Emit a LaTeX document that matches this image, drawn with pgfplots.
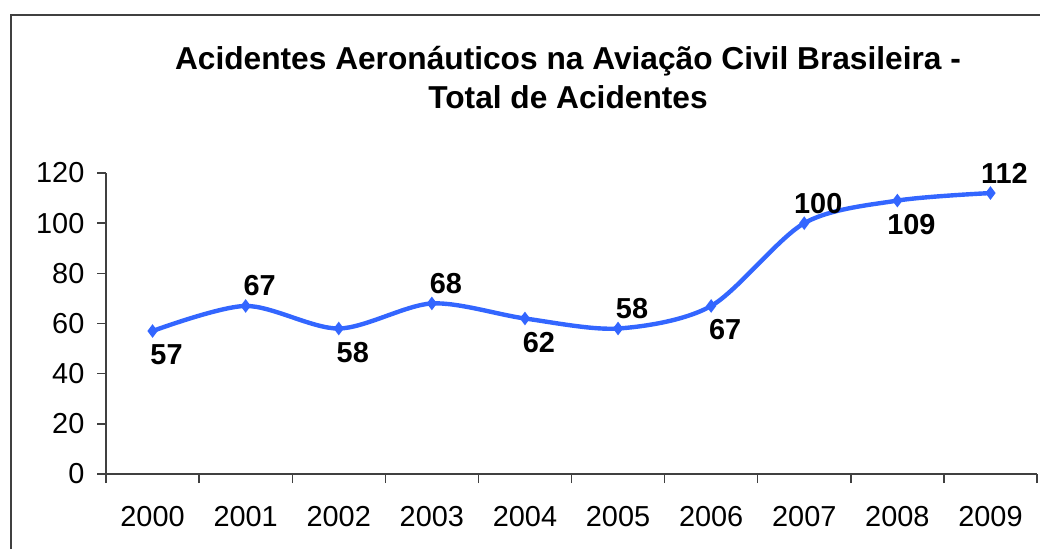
\documentclass[border=0pt]{standalone}
\usepackage{pgfplots}
\pgfplotsset{compat=1.18}
\usepackage{fontspec}
\setmainfont{Liberation Sans}
\definecolor{lineblue}{RGB}{51,102,255}
\definecolor{axgray}{RGB}{64,64,64}
\begin{document}
\begin{tikzpicture}[x=1bp,y=1bp]
\path[use as bounding box] (0,0) rectangle (520,274.5);
\draw[line width=1bp, axgray] (5.5,0) -- (5.5,267) -- (520,267);
\node[font=\fontsize{15.9}{19.5}\selectfont\bfseries, align=center] at (284,235.75) {Acidentes Aeronáuticos na Aviação Civil Brasileira -\\Total de Acidentes};
\begin{axis}[
  at={(53bp,37.5bp)}, anchor=south west,
  scale only axis, width=465.5bp, height=150.5bp,
  xmin=-0.5, xmax=9.5, ymin=0, ymax=120,
  axis x line*=bottom, axis y line*=left,
  axis line style={-, axgray, line width=0.7bp},
  clip=false,
  xtick={0,...,9},
  xticklabels={2000,2001,2002,2003,2004,2005,2006,2007,2008,2009},
  major x tick style={draw=none},
  minor xtick={-0.5,0.5,...,9.5},
  minor tick length=4.5bp,
  major tick length=4.3bp,
  tick align=outside,
  ytick={0,20,...,120},
  tick style={axgray, line width=0.7bp},
  ticklabel style={font=\fontsize{14.5}{16}\selectfont},
  xticklabel style={yshift=-8.5bp},
  yticklabel style={xshift=-3bp},
  /pgf/number format/assume math mode=true,
  nodes near coords style={font=\fontsize{14.5}{16}\selectfont\bfseries, anchor=center},
]
\addplot[lineblue, line width=2.2bp, smooth, tension=0.5, mark=diamond*, mark size=1.6bp, mark options={solid}]
 coordinates {(0,57)(1,67)(2,58)(3,68)(4,62)(5,58)(6,67)(7,100)(8,109)(9,112)};
\addplot[draw=none, no marks, nodes near coords, point meta=y,
  nodes near coords style={xshift=7bp, yshift=10bp}]
 coordinates {(1,67)(3,68)(5,58)(7,100)(9,112)};
\addplot[draw=none, no marks, nodes near coords, point meta=y,
  nodes near coords style={xshift=7bp, yshift=-12bp}]
 coordinates {(0,57)(2,58)(4,62)(6,67)(8,109)};
\end{axis}
\end{tikzpicture}
\end{document}
